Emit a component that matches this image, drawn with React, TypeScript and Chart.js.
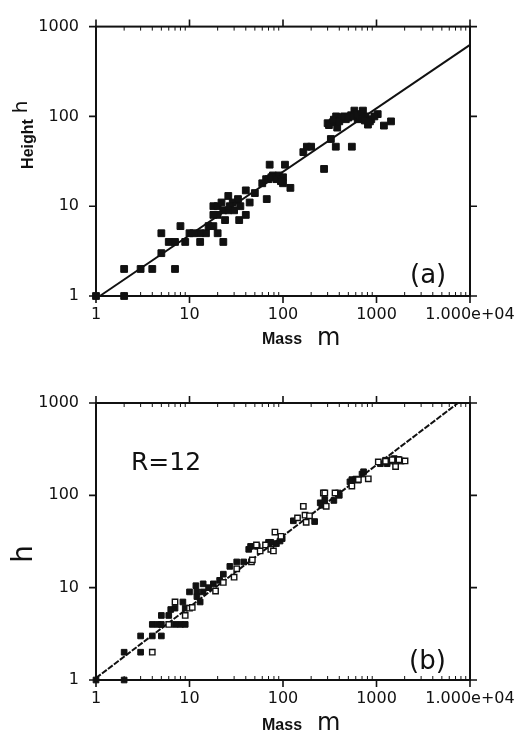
import React, { useEffect, useRef } from "react";
import { Chart, registerables } from "chart.js";

Chart.register(...registerables);

// ---- axis ticks ----
const xTickValues = [1, 10, 100, 1000, 10000];
const xTickLabels = ["1", "10", "100", "1000", "1.000e+04"];
const yTickValues = [1, 10, 100, 1000];
const yTickLabels = ["1", "10", "100", "1000"];

// ---- panel (a): filled squares ----
const massA = [1, 2, 2, 3, 4, 7, 5, 5, 6, 7, 9, 8, 10, 11, 13, 13, 15, 16, 18, 20, 23, 18, 20, 23, 24, 26, 29, 26, 33, 34, 35, 40, 40, 44, 50, 60, 66, 67, 72, 78, 90, 100, 105, 100, 120, 165, 180, 200, 275, 325, 300, 340, 370, 367, 380, 420, 470, 535, 545, 580, 630, 716, 760, 810, 880, 1030, 1200, 1430, 310, 350, 400, 450, 500, 560, 620, 680, 700, 750, 850, 950, 20, 22, 27, 30, 70, 75, 85, 95, 18];
const heightA = [1, 2, 1, 2, 2, 2, 3, 5, 4, 4, 4, 6, 5, 5, 4, 5, 5, 6, 6, 5, 4, 10, 10, 9, 7, 13, 11, 9, 12, 7, 10, 8, 15, 11, 14, 18, 20, 12, 29, 22, 22, 21, 29, 18, 16, 40, 46, 46, 26, 56, 84, 86, 100, 46, 75, 96, 93, 103, 46, 116, 93, 116, 100, 81, 93, 106, 79, 88, 80, 92, 88, 100, 97, 100, 106, 100, 95, 90, 88, 100, 8, 11, 10, 9, 20, 21, 20, 19, 8];
const fitAMass = [1.1, 10000];
const fitAHeight = [1, 625];

// ---- panel (b): filled and open squares ----
const massBFilled = [1, 2, 2, 3, 3, 4, 5, 4, 4.6, 5, 7, 8, 9, 5, 6, 6.3, 7, 9, 8.5, 10, 11.7, 12, 12, 13, 14, 14, 16, 18, 21, 23, 27, 32, 38, 43, 45, 53, 70, 74, 85, 93, 98, 129, 218, 250, 260, 280, 350, 390, 400, 520, 545, 600, 700, 727, 1100, 1250, 1400, 1550, 1700, 1850, 1300, 1600];
const heightBFilled = [1, 1, 2, 2, 3, 3, 3, 4, 4, 4, 4, 4, 4, 5, 5, 5.8, 6, 6, 7, 9, 10.5, 9, 8, 7, 11, 9, 10, 11, 12, 14, 17, 19, 19, 26, 28, 28, 31, 31, 30, 32, 34, 53, 52, 83, 78, 90, 88, 106, 100, 140, 148, 150, 170, 180, 220, 240, 235, 250, 245, 235, 220, 230];
const massBOpen = [4, 6, 7, 9, 10, 10.7, 19, 23, 30, 32, 46, 47, 52, 65, 57, 74, 79, 82, 95, 143, 165, 172, 177, 192, 270, 280, 290, 360, 545, 630, 640, 817, 1045, 1250, 1470, 1600, 1740, 2020];
const heightBOpen = [2, 4, 7, 5, 6, 6.1, 9.2, 11.4, 13, 16, 19, 20, 29, 29, 25, 26, 25, 40, 36, 57, 76, 61, 51, 60, 106, 106, 76, 106, 126, 146, 148, 151, 230, 234, 243, 205, 243, 236];
const fitBMass = [1, 7450];
const fitBHeight = [1.05, 1000];

const toXY = (xs: number[], ys: number[]) => xs.map((x, i) => ({ x, y: ys[i] }));

const INK = "#111";

const framePlugin = {
  id: "frame",
  afterDraw(chart: any) {
    const { ctx, chartArea, scales } = chart;
    const { left, right, top, bottom } = chartArea;
    const x = scales.x;
    const y = scales.y;
    ctx.save();
    ctx.strokeStyle = INK;
    ctx.lineWidth = 2;
    ctx.strokeRect(left, top, right - left, bottom - top);
    const major = 7;
    const minor = 4;
    ctx.lineWidth = 1.6;
    ctx.beginPath();
    for (const v of xTickValues) {
      const px = x.getPixelForValue(v);
      ctx.moveTo(px, bottom);
      ctx.lineTo(px, bottom + major);
      ctx.moveTo(px, top);
      ctx.lineTo(px, top - major);
    }
    for (const v of yTickValues) {
      const py = y.getPixelForValue(v);
      ctx.moveTo(left, py);
      ctx.lineTo(left - major, py);
      ctx.moveTo(right, py);
      ctx.lineTo(right + major, py);
    }
    ctx.stroke();
    ctx.lineWidth = 1;
    ctx.beginPath();
    for (let d = 0; d < xTickValues.length - 1; d++) {
      for (let k = 2; k <= 9; k++) {
        const px = x.getPixelForValue(xTickValues[d] * k);
        ctx.moveTo(px, bottom);
        ctx.lineTo(px, bottom - minor);
        ctx.moveTo(px, top);
        ctx.lineTo(px, top + minor);
      }
    }
    ctx.stroke();
    ctx.restore();
  },
};

type TextItem = { text: string; x: number; y: number; font: string; rotate?: boolean; align?: CanvasTextAlign };

const textPlugin = {
  id: "texts",
  afterDraw(chart: any, _args: any, opts: any) {
    const ctx = chart.ctx;
    for (const t of (opts.items || []) as TextItem[]) {
      ctx.save();
      ctx.fillStyle = INK;
      ctx.font = t.font;
      ctx.textBaseline = "alphabetic";
      ctx.textAlign = t.align ?? "left";
      if (t.rotate) {
        ctx.translate(t.x, t.y);
        ctx.rotate(-Math.PI / 2);
        ctx.fillText(t.text, 0, 0);
      } else {
        ctx.fillText(t.text, t.x, t.y);
      }
      ctx.restore();
    }
  },
};

const tickFont = { family: "DejaVu Sans", size: 16 };

function Panel(props: {
  top: number;
  height: number;
  padTop: number;
  xAxisH: number;
  datasets: any[];
  texts: TextItem[];
}) {
  const ref = useRef<HTMLCanvasElement>(null);
  useEffect(() => {
    if (!ref.current) return;
    const chart = new Chart(ref.current, {
      type: "scatter",
      data: { datasets: props.datasets },
      plugins: [framePlugin, textPlugin],
      options: {
        responsive: false,
        animation: false,
        layout: { padding: { top: props.padTop, right: 60, left: 0, bottom: 0 } },
        plugins: {
          legend: { display: false },
          tooltip: { enabled: false },
          texts: { items: props.texts },
        } as any,
        scales: {
          x: {
            type: "logarithmic",
            min: 1,
            max: 10000,
            grid: { display: false, drawTicks: false },
            border: { display: false },
            afterBuildTicks: (s: any) => {
              s.ticks = xTickValues.map((v) => ({ value: v }));
            },
            afterFit: (s: any) => {
              s.height = props.xAxisH;
            },
            ticks: {
              autoSkip: false,
              maxRotation: 0,
              padding: 9,
              color: INK,
              font: tickFont,
              callback: (v: any) => {
                const i = xTickValues.indexOf(Number(v));
                return i >= 0 ? xTickLabels[i] : "";
              },
            },
          },
          y: {
            type: "logarithmic",
            min: 1,
            max: 1000,
            grid: { display: false, drawTicks: false },
            border: { display: false },
            afterBuildTicks: (s: any) => {
              s.ticks = yTickValues.map((v) => ({ value: v }));
            },
            afterFit: (s: any) => {
              s.width = 96;
            },
            ticks: {
              autoSkip: false,
              padding: 17,
              color: INK,
              font: tickFont,
              callback: (v: any) => {
                const i = yTickValues.indexOf(Number(v));
                return i >= 0 ? yTickLabels[i] : "";
              },
            },
          },
        },
      } as any,
    });
    return () => chart.destroy();
  }, []);
  return (
    <canvas
      ref={ref}
      width={530}
      height={props.height}
      style={{ position: "absolute", left: 0, top: props.top, width: 530, height: props.height, display: "block" }}
    />
  );
}

export default function App() {
  const datasetsA = [
    {
      data: toXY(massA, heightA),
      pointStyle: "rect",
      pointRadius: 4.8,
      backgroundColor: INK,
      borderColor: INK,
      borderWidth: 1,
      clip: false,
    },
    {
      data: toXY(fitAMass, fitAHeight),
      showLine: true,
      pointRadius: 0,
      borderColor: INK,
      borderWidth: 2,
      clip: false,
    },
  ];
  const datasetsB = [
    {
      data: toXY(massBOpen, heightBOpen),
      pointStyle: "rect",
      pointRadius: 3.8,
      backgroundColor: "#fff",
      borderColor: INK,
      borderWidth: 1.4,
      clip: false,
    },
    {
      data: toXY(massBFilled, heightBFilled),
      pointStyle: "rect",
      pointRadius: 4,
      backgroundColor: INK,
      borderColor: INK,
      borderWidth: 1,
      clip: false,
    },
    {
      data: toXY(fitBMass, fitBHeight),
      showLine: true,
      pointRadius: 0,
      borderColor: INK,
      borderWidth: 2,
      borderDash: [6, 1.5],
      clip: false,
    },
  ];
  const textsA: TextItem[] = [
    { text: "Height", x: 33, y: 144, font: "bold 16px 'Liberation Sans'", rotate: true, align: "center" },
    { text: "h", x: 27, y: 107, font: "20px 'DejaVu Sans'", rotate: true, align: "center" },
    { text: "Mass", x: 262, y: 344, font: "bold 16px 'Liberation Sans'" },
    { text: "m", x: 317, y: 345, font: "24px 'DejaVu Sans'" },
    { text: "(a)", x: 410, y: 283, font: "26px 'DejaVu Sans'" },
  ];
  const textsB: TextItem[] = [
    { text: "h", x: 32, y: 189, font: "28px 'DejaVu Sans'", rotate: true, align: "center" },
    { text: "R=12", x: 131, y: 105, font: "25px 'DejaVu Sans'" },
    { text: "(b)", x: 409, y: 304, font: "26px 'DejaVu Sans'" },
    { text: "Mass", x: 262, y: 365, font: "bold 16px 'Liberation Sans'" },
    { text: "m", x: 317, y: 365, font: "24px 'DejaVu Sans'" },
  ];
  return (
    <div style={{ position: "absolute", left: 0, top: 0, width: 530, height: 736, background: "#fff" }}>
      <Panel top={0} height={360} padTop={17} xAxisH={64} datasets={datasetsA} texts={textsA} />
      <Panel top={365} height={371} padTop={38} xAxisH={56} datasets={datasetsB} texts={textsB} />
    </div>
  );
}
